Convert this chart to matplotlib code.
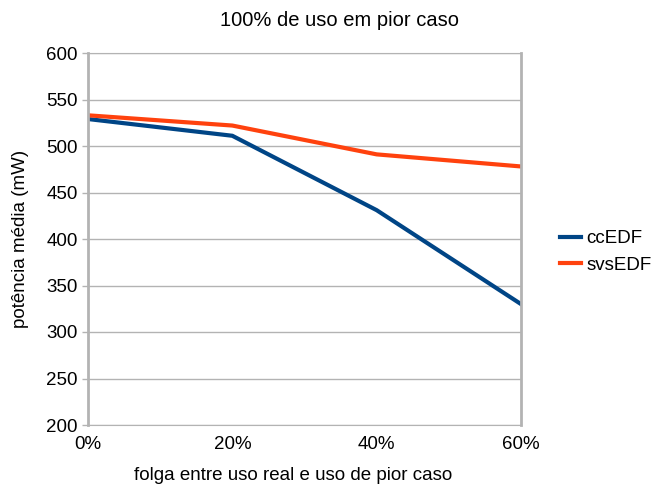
import matplotlib
matplotlib.use("Agg")
import matplotlib.pyplot as plt

plt.rcParams['font.family'] = ['Liberation Sans', 'DejaVu Sans']

folga = ["0%", "20%", "40%", "60%"]
ccEDF = [529, 511, 431, 330]
svsEDF = [533, 522, 491, 478]

fig = plt.figure(figsize=(6.55, 4.86), dpi=100)
ax = fig.add_axes([88/655, 1-425/486, (521-88)/655, (425-53)/486])

x = range(len(folga))
ax.plot(x, ccEDF, color="#004586", lw=3, label="ccEDF")
ax.plot(x, svsEDF, color="#ff420e", lw=3, label="svsEDF")

ax.set_xlim(0, 3)
ax.set_ylim(200, 600)
ax.set_yticks(range(200, 601, 50))
ax.set_xticks(list(x))
ax.set_xticklabels(folga)
ax.yaxis.grid(True, color="#b3b3b3", lw=1)
ax.set_axisbelow(True)
for s in ax.spines.values():
    s.set_color("#b3b3b3")
ax.spines['left'].set_linewidth(2)
ax.spines['right'].set_linewidth(2)
ax.tick_params(axis='y', colors="#b3b3b3", labelcolor="black", labelsize=13.5, length=4, width=1)
ax.tick_params(axis='x', length=0, labelsize=13.5, pad=8)

fig.text(339/655, 1-21/486, "100% de uso em pior caso", fontsize=14.5, ha="center", va="center")
ax.set_ylabel("potência média (mW)", fontsize=13.5, labelpad=12)
ax.set_xlabel("folga entre uso real e uso de pior caso", fontsize=13.5, va="center")
ax.xaxis.set_label_coords(0.473, -(475 - 425) / 372)
ax.legend(loc="center left", bbox_to_anchor=(560/655, 1-252/486), bbox_transform=fig.transFigure,
          frameon=False, fontsize=13.5, borderaxespad=0, borderpad=0,
          handlelength=1.1, handletextpad=0.3, labelspacing=0.5)

fig.savefig("out.png", dpi=100)
